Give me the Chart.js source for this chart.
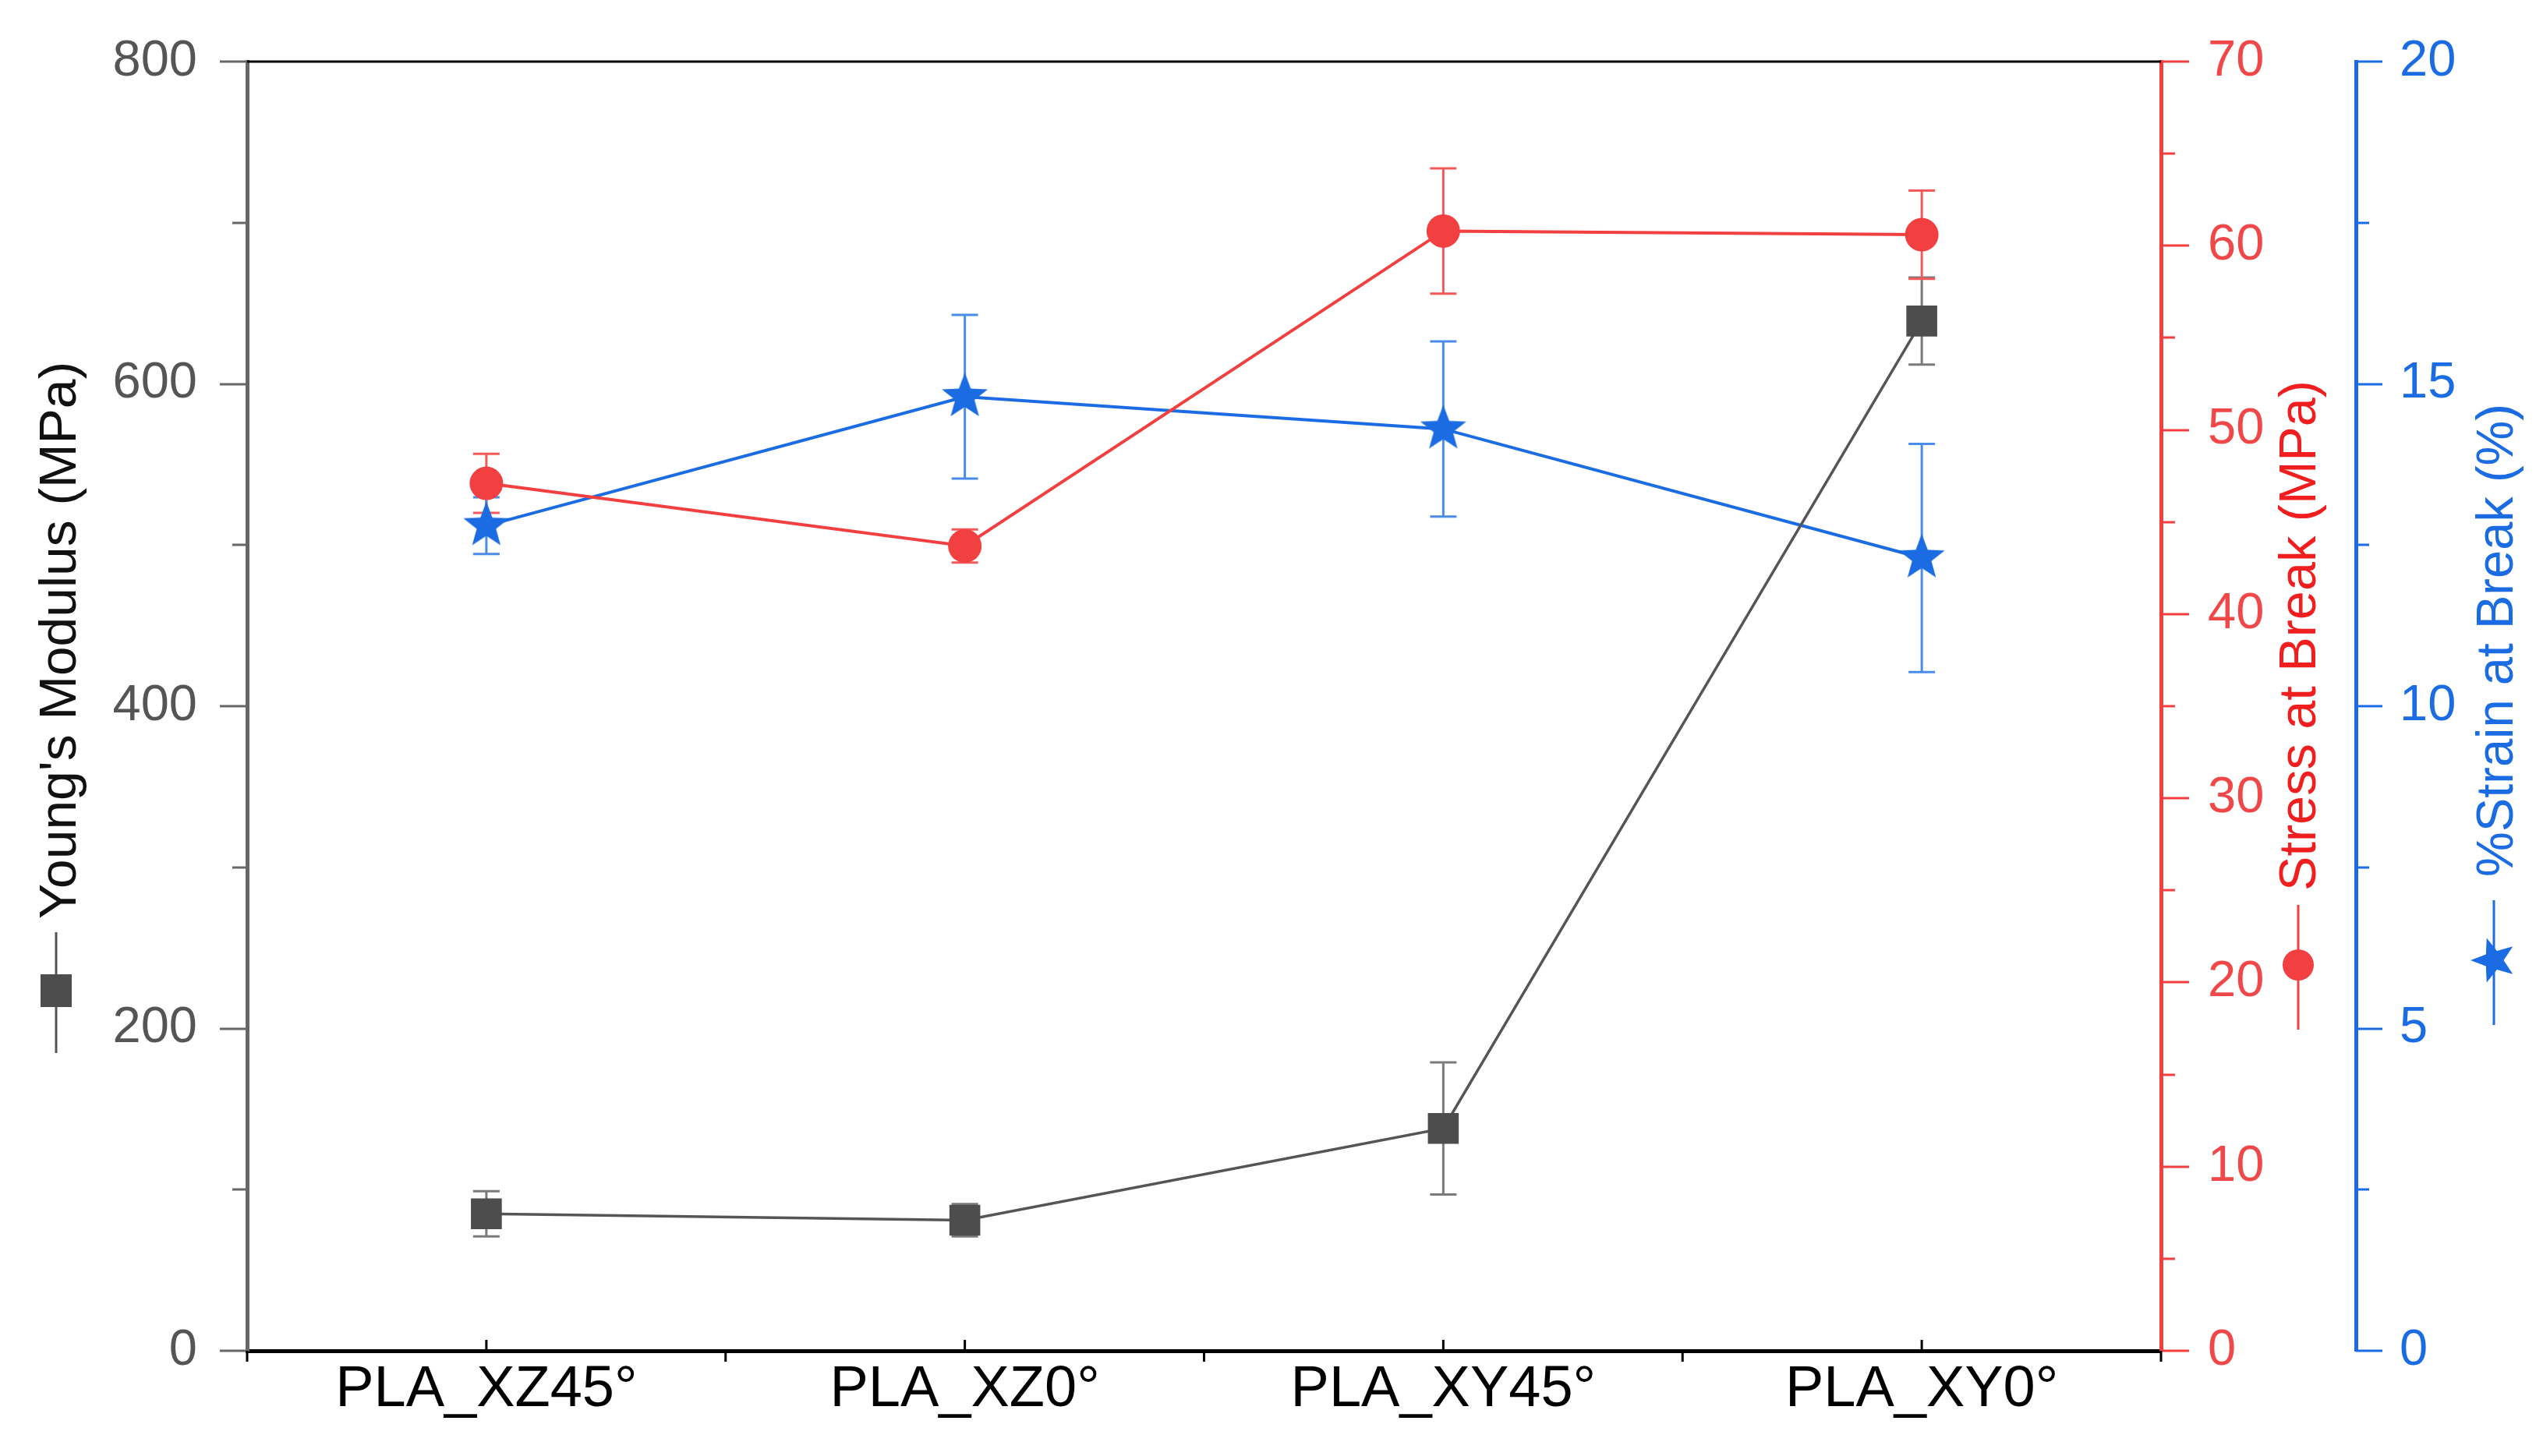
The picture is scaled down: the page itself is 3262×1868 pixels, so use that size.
<!DOCTYPE html>
<html>
<head>
<meta charset="utf-8">
<script src="https://cdn.jsdelivr.net/npm/chart.js@4.4.1/dist/chart.umd.min.js"></script>
<style>
html, body { margin: 0; padding: 0; background: #fff; }
#wrap { width: 3262px; height: 1868px; }
</style>
</head>
<body>
<div id="wrap"><canvas id="chart" width="3262" height="1868"></canvas></div>
<script>
const CATEGORIES = ['PLA_XZ45°', 'PLA_XZ0°', 'PLA_XY45°', 'PLA_XY0°'];

const MODULUS = [85, 81, 138, 639];
const MODULUS_ERR = [14, 10, 41, 27];
const STRESS = [47.1, 43.7, 60.8, 60.6];
const STRESS_ERR = [1.6, 0.9, 3.4, 2.4];
const STRAIN = [12.8, 14.8, 14.3, 12.3];
const STRAIN_ERR = [0.44, 1.27, 1.36, 1.77];

const MODULUS_TICKS = [0, 200, 400, 600, 800];
const STRESS_TICKS = [0, 10, 20, 30, 40, 50, 60, 70];
const STRAIN_TICKS = [0, 5, 10, 15, 20];

const FONT = "'Liberation Sans', Arial, sans-serif";
const GRAY = '#4d4d4d';
const RED = '#f23f3f';
const BLUE = '#1b6ce3';

function starPath(ctx, cx, cy, R, rot) {
    const r = R * 0.42;
    ctx.beginPath();
    for (let k = 0; k < 10; k++) {
        const rad = k % 2 ? r : R;
        const a = rot - Math.PI / 2 + k * Math.PI / 5;
        const px = cx + rad * Math.cos(a), py = cy + rad * Math.sin(a);
        if (k === 0) ctx.moveTo(px, py); else ctx.lineTo(px, py);
    }
    ctx.closePath();
}

function makeStar(R, color) {
    const c = document.createElement('canvas');
    c.width = c.height = Math.ceil(2 * R + 2);
    const g = c.getContext('2d');
    g.fillStyle = color;
    starPath(g, c.width / 2, c.height / 2, R, 0);
    g.fill();
    return c;
}

// no extra room for half tick labels, the layout padding fixes the plot box
function noPad(s) {
    s.paddingTop = 0;
    s.paddingBottom = 0;
    s.paddingLeft = 0;
    s.paddingRight = 0;
}

// error bars, drawn under the markers
const errorBars = {
    id: 'errorBars',
    beforeDatasetsDraw(chart) {
        const ctx = chart.ctx;
        const x = chart.scales.x;
        const sets = [
            { axis: 'y', vals: MODULUS, errs: MODULUS_ERR, color: '#7a7a7a' },
            { axis: 'y1', vals: STRESS, errs: STRESS_ERR, color: '#f25a5a' },
            { axis: 'y2', vals: STRAIN, errs: STRAIN_ERR, color: '#4a8ce8' }
        ];
        ctx.save();
        ctx.lineWidth = 3;
        sets.forEach(s => {
            const sc = chart.scales[s.axis];
            ctx.strokeStyle = s.color;
            s.vals.forEach((v, i) => {
                const px = x.getPixelForValue(i);
                const top = sc.getPixelForValue(v + s.errs[i]);
                const bot = sc.getPixelForValue(v - s.errs[i]);
                ctx.beginPath();
                ctx.moveTo(px, top); ctx.lineTo(px, bot);
                ctx.moveTo(px - 17, top); ctx.lineTo(px + 17, top);
                ctx.moveTo(px - 17, bot); ctx.lineTo(px + 17, bot);
                ctx.stroke();
            });
        });
        ctx.restore();
    }
};

// tick marks (major + minor) and the top frame line
const tickMarks = {
    id: 'tickMarks',
    afterDraw(chart) {
        const ctx = chart.ctx;
        const area = chart.chartArea;
        ctx.save();
        ctx.lineWidth = 3;

        function yTicks(sc, step, color, dir, bigLen, smallLen) {
            const edge = dir < 0 ? sc.right : sc.left;
            ctx.strokeStyle = color;
            ctx.beginPath();
            for (let v = sc.min, k = 0; v <= sc.max + 1e-9; v = sc.min + (++k) * step / 2) {
                const py = Math.round(sc.getPixelForValue(v));
                const len = k % 2 ? smallLen : bigLen;
                ctx.moveTo(edge, py);
                ctx.lineTo(edge + dir * len, py);
            }
            ctx.stroke();
        }
        yTicks(chart.scales.y, 200, '#666666', -1, 35, 19);
        yTicks(chart.scales.y1, 10, RED, 1, 36, 18);
        yTicks(chart.scales.y2, 5, BLUE, 1, 34, 17);

        const x = chart.scales.x;
        ctx.strokeStyle = '#000';
        ctx.beginPath();
        CATEGORIES.forEach((c, i) => {
            const px = x.getPixelForValue(i);
            ctx.moveTo(px, area.bottom);
            ctx.lineTo(px, area.bottom - 14);
        });
        const half = (x.getPixelForValue(1) - x.getPixelForValue(0)) / 2;
        for (let i = 0; i <= CATEGORIES.length; i++) {
            const px = x.getPixelForValue(i) - half;
            ctx.moveTo(px, area.bottom);
            ctx.lineTo(px, area.bottom + 14);
        }
        ctx.stroke();

        ctx.beginPath();
        ctx.moveTo(area.left, area.top);
        ctx.lineTo(area.right, area.top);
        ctx.stroke();
        ctx.restore();
    }
};

// rotated axis titles with their legend symbols
const axisTitles = {
    id: 'axisTitles',
    afterDraw(chart) {
        const ctx = chart.ctx;
        const titles = [
            { text: "Young's Modulus (MPa)", color: '#111', base: 97, start: 1179, len: 715,
              sym: 'square', symColor: GRAY, lineColor: '#555', sx: 72, sy: 1271, l0: 1196, l1: 1351 },
            { text: 'Stress at Break (MPa)', color: '#f01e1e', base: 2970, start: 1143, len: 655,
              sym: 'circle', symColor: RED, lineColor: RED, sx: 2948, sy: 1238, l0: 1161, l1: 1321 },
            { text: '%Strain at Break (%)', color: BLUE, base: 3223, start: 1125, len: 607,
              sym: 'star', symColor: BLUE, lineColor: BLUE, sx: 3199, sy: 1232, l0: 1155, l1: 1315 }
        ];
        ctx.save();
        titles.forEach(t => {
            ctx.save();
            ctx.translate(t.base, t.start);
            ctx.rotate(-Math.PI / 2);
            ctx.font = '66px ' + FONT;
            ctx.fillStyle = t.color;
            ctx.textAlign = 'left';
            ctx.textBaseline = 'alphabetic';
            const w = ctx.measureText(t.text).width;
            ctx.scale(t.len / w, 1);
            ctx.fillText(t.text, 0, 0);
            ctx.restore();

            ctx.strokeStyle = t.lineColor;
            ctx.lineWidth = 3;
            ctx.beginPath();
            ctx.moveTo(t.sx, t.l0);
            ctx.lineTo(t.sx, t.l1);
            ctx.stroke();
            ctx.fillStyle = t.symColor;
            if (t.sym === 'square') {
                ctx.fillRect(t.sx - 20, t.sy - 21, 40, 42);
            } else if (t.sym === 'circle') {
                ctx.beginPath();
                ctx.ellipse(t.sx, t.sy, 20, 20, 0, 0, Math.PI * 2);
                ctx.fill();
            } else {
                starPath(ctx, t.sx, t.sy, 30, -Math.PI / 2);
                ctx.fill();
            }
        });
        ctx.restore();
    }
};

const tickFont = { family: FONT, size: 65 };

const chartConfig = {
    type: 'line',
    data: {
        labels: CATEGORIES,
        datasets: [
            {
                label: "Young's Modulus (MPa)",
                data: MODULUS,
                yAxisID: 'y',
                borderColor: '#555555',
                borderWidth: 3.5,
                pointStyle: 'rect',
                pointRadius: 28,
                pointBackgroundColor: GRAY,
                pointBorderWidth: 0
            },
            {
                label: 'Stress at Break (MPa)',
                data: STRESS,
                yAxisID: 'y1',
                borderColor: RED,
                borderWidth: 4,
                pointStyle: 'circle',
                pointRadius: 21.5,
                pointBackgroundColor: RED,
                pointBorderWidth: 0
            },
            {
                label: '%Strain at Break (%)',
                data: STRAIN,
                yAxisID: 'y2',
                borderColor: BLUE,
                borderWidth: 4,
                pointStyle: makeStar(31, BLUE),
                pointRadius: 31,
                pointBackgroundColor: BLUE,
                pointBorderWidth: 0
            }
        ]
    },
    options: {
        responsive: false,
        animation: false,
        layout: { padding: { top: 79, left: 0, right: 0, bottom: 0 } },
        plugins: {
            legend: { display: false },
            tooltip: { enabled: false }
        },
        scales: {
            x: {
                type: 'category',
                offset: true,
                grid: { display: false, drawTicks: false },
                border: { display: true, color: '#000', width: 5 },
                ticks: { font: { family: FONT, size: 74 }, color: '#000', padding: 6, maxRotation: 0 },
                afterFit(s) { noPad(s); s.height = 135; }
            },
            y: {
                position: 'left',
                min: 0,
                max: 800,
                grid: { display: false, drawTicks: false },
                border: { display: true, color: '#666666', width: 5 },
                ticks: {
                    stepSize: 200, font: tickFont, color: '#555555', padding: 64,
                    callback: v => MODULUS_TICKS.includes(v) ? String(v) : ''
                },
                afterFit(s) { noPad(s); s.width = 317; }
            },
            y1: {
                position: 'right',
                min: 0,
                max: 70,
                grid: { display: false, drawTicks: false },
                border: { display: true, color: RED, width: 5 },
                ticks: {
                    stepSize: 10, font: tickFont, color: '#f04848', padding: 60,
                    callback: v => STRESS_TICKS.includes(v) ? String(v) : ''
                },
                afterFit(s) { noPad(s); s.width = 250; }
            },
            y2: {
                position: 'right',
                min: 0,
                max: 20,
                grid: { display: false, drawTicks: false },
                border: { display: true, color: BLUE, width: 5 },
                ticks: {
                    stepSize: 5, font: tickFont, color: BLUE, padding: 56,
                    callback: v => STRAIN_TICKS.includes(v) ? String(v) : ''
                },
                afterFit(s) { noPad(s); s.width = 240; }
            }
        }
    },
    plugins: [errorBars, tickMarks, axisTitles]
};

const lineChart = new Chart(document.getElementById('chart'), chartConfig);
</script>
</body>
</html>
